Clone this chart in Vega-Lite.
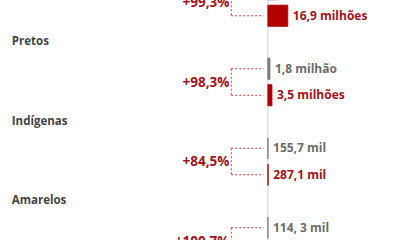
{
  "$schema": "https://vega.github.io/schema/vega-lite/v6.json",
  "width": 400,
  "height": 240,
  "autosize": "none",
  "padding": 0,
  "background": "white",
  "config": {"view": {"stroke": null}, "font": "Open Sans"},
  "datasets": {
    "barras": [
      {"grupo": "Pardos", "tipo": "antes", "linha": "Pardos-antes", "valor": 8.48, "rotulo": "8,5 milhões"},
      {"grupo": "Pardos", "tipo": "depois", "linha": "Pardos-depois", "valor": 16.9, "rotulo": "16,9 milhões"},
      {"grupo": "Pretos", "tipo": "antes", "linha": "Pretos-antes", "valor": 1.8, "rotulo": "1,8 milhão"},
      {"grupo": "Pretos", "tipo": "depois", "linha": "Pretos-depois", "valor": 3.5, "rotulo": "3,5 milhões"},
      {"grupo": "Indígenas", "tipo": "antes", "linha": "Indígenas-antes", "valor": 0.1557, "rotulo": "155,7 mil"},
      {"grupo": "Indígenas", "tipo": "depois", "linha": "Indígenas-depois", "valor": 0.2871, "rotulo": "287,1 mil"},
      {"grupo": "Amarelos", "tipo": "antes", "linha": "Amarelos-antes", "valor": 0.1143, "rotulo": "114, 3 mil"},
      {"grupo": "Amarelos", "tipo": "depois", "linha": "Amarelos-depois", "valor": 0.2294, "rotulo": "229,4 mil"}
    ],
    "grupos": [
      {"grupo": "Pardos", "linha_rotulo": "Pardos-rotulo", "linha_antes": "Pardos-antes", "linha_depois": "Pardos-depois", "variacao": "+99,3%"},
      {"grupo": "Pretos", "linha_rotulo": "Pretos-rotulo", "linha_antes": "Pretos-antes", "linha_depois": "Pretos-depois", "variacao": "+98,3%"},
      {"grupo": "Indígenas", "linha_rotulo": "Indígenas-rotulo", "linha_antes": "Indígenas-antes", "linha_depois": "Indígenas-depois", "variacao": "+84,5%"},
      {"grupo": "Amarelos", "linha_rotulo": "Amarelos-rotulo", "linha_antes": "Amarelos-antes", "linha_depois": "Amarelos-depois", "variacao": "+100,7%"}
    ]
  },
  "resolve": {"scale": {"y": "shared", "x": "shared"}},
  "layer": [
    {
      "data": {"values": [{"eixo": 0}]},
      "mark": {"type": "rule", "color": "#cfcfcf", "strokeWidth": 1},
      "encoding": {
        "x": {"field": "eixo", "type": "quantitative", "scale": {"domain": [-227, 112], "nice": false, "zero": false}, "axis": null}
      }
    },
    {
      "data": {"name": "barras"},
      "mark": {"type": "bar", "height": {"band": 0.8}, "strokeWidth": 0.8},
      "encoding": {
        "y": {"field": "linha", "type": "nominal", "axis": null,
          "scale": {"domain": ["Pardos-rotulo","Pardos-antes","Pardos-depois","Pretos-rotulo","Pretos-antes","Pretos-depois","Indígenas-rotulo","Indígenas-antes","Indígenas-depois","Amarelos-rotulo","Amarelos-antes","Amarelos-depois"], "range": [-50.5, 267.5], "paddingInner": 0, "paddingOuter": 0}},
        "x": {"field": "valor", "type": "quantitative", "axis": null},
        "x2": {"datum": 0},
        "color": {"field": "tipo", "type": "nominal", "legend": null, "scale": {"domain": ["antes", "depois"], "range": ["#7a7a7a", "#b20000"]}},
        "stroke": {"field": "tipo", "type": "nominal", "legend": null, "scale": {"domain": ["antes", "depois"], "range": ["#7a7a7a", "#b20000"]}}
      }
    },
    {
      "data": {"name": "barras"},
      "transform": [{"filter": "datum.tipo === 'antes'"}],
      "mark": {"type": "text", "align": "left", "baseline": "middle", "dx": 5, "fontSize": 12, "fontWeight": "bold", "color": "#6b6b6b"},
      "encoding": {
        "y": {"field": "linha", "type": "nominal", "axis": null},
        "x": {"field": "valor", "type": "quantitative"},
        "text": {"field": "rotulo"}
      }
    },
    {
      "data": {"name": "barras"},
      "transform": [{"filter": "datum.tipo === 'depois'"}],
      "mark": {"type": "text", "align": "left", "baseline": "middle", "dx": 5, "fontSize": 12, "fontWeight": "bold", "color": "#a3121b"},
      "encoding": {
        "y": {"field": "linha", "type": "nominal", "axis": null},
        "x": {"field": "valor", "type": "quantitative"},
        "text": {"field": "rotulo"}
      }
    },
    {
      "data": {"name": "grupos"},
      "mark": {"type": "rule", "color": "#c0393b", "strokeWidth": 1, "strokeDash": [2, 2]},
      "encoding": {
        "y": {"field": "linha_antes", "type": "nominal", "bandPosition": 0.5},
        "x": {"datum": -31},
        "x2": {"datum": -3.5}
      }
    },
    {
      "data": {"name": "grupos"},
      "mark": {"type": "rule", "color": "#c0393b", "strokeWidth": 1, "strokeDash": [2, 2]},
      "encoding": {
        "y": {"field": "linha_depois", "type": "nominal", "bandPosition": 0.5},
        "x": {"datum": -31},
        "x2": {"datum": -3.5}
      }
    },
    {
      "data": {"name": "grupos"},
      "mark": {"type": "rule", "color": "#c0393b", "strokeWidth": 1, "strokeDash": [2, 2]},
      "encoding": {
        "y": {"field": "linha_antes", "type": "nominal", "bandPosition": 0.5},
        "y2": {"field": "linha_depois", "bandPosition": 0.5},
        "x": {"datum": -31}
      }
    },
    {
      "data": {"name": "grupos"},
      "mark": {"type": "text", "align": "right", "baseline": "middle", "dy": 14, "fontSize": 13.5, "fontWeight": "bold", "color": "#a3121b"},
      "encoding": {
        "y": {"field": "linha_antes", "type": "nominal"},
        "x": {"datum": -32.5},
        "text": {"field": "variacao"}
      }
    },
    {
      "data": {"name": "grupos"},
      "mark": {"type": "text", "align": "left", "baseline": "middle", "fontSize": 11.5, "fontWeight": "bold", "color": "#444444"},
      "encoding": {
        "y": {"field": "linha_rotulo", "type": "nominal"},
        "x": {"datum": -217},
        "text": {"field": "grupo"}
      }
    }
  ]
}
